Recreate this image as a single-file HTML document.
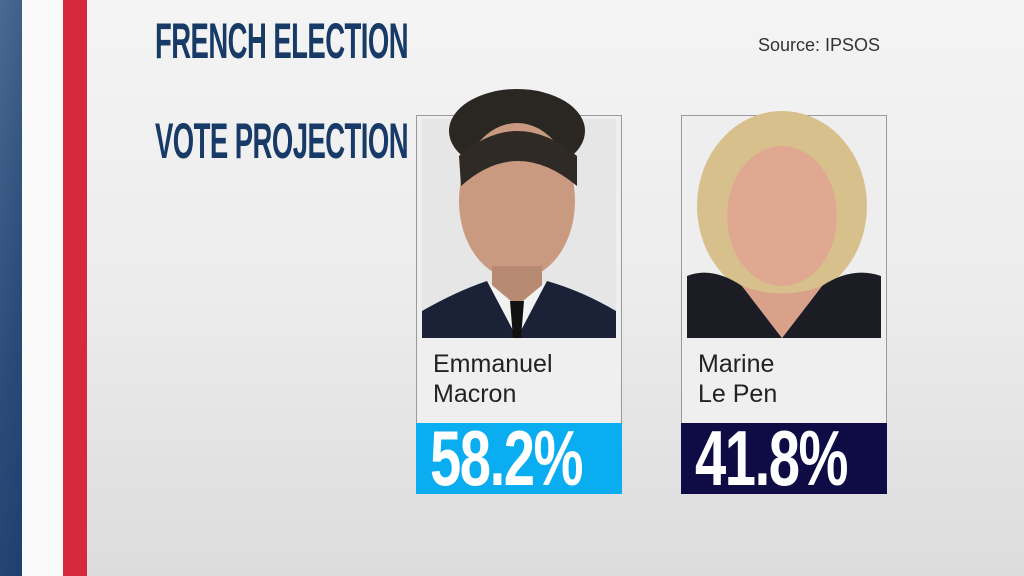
<!DOCTYPE html>
<html><head><meta charset="utf-8"><style>
body{margin:0;width:1024px;height:576px;overflow:hidden;position:relative;background:linear-gradient(180deg,#f4f4f4 0%,#ececec 50%,#dcdcdc 100%);font-family:"Liberation Sans",sans-serif}
.s{position:absolute;top:0;height:576px}
.t{position:absolute;left:155px;color:#173a67;font-weight:bold;font-size:50px;line-height:50px;transform:scaleX(0.55);transform-origin:left top;white-space:nowrap;letter-spacing:-1px}
.card{position:absolute;top:115px;width:204px;height:377px;border:1px solid #9a9a9a;background:#efefef}
.nm{position:absolute;left:16px;top:233px;font-size:25px;line-height:30px;color:#222}
.pc{position:absolute;left:-1px;top:307px;width:206px;height:71px;color:#fff;font-weight:bold;font-size:78px;line-height:71px;overflow:hidden}
.pc span{display:inline-block;margin-left:14px;transform:scaleX(0.72);transform-origin:left;letter-spacing:-2px}
</style></head><body>
<div class="s" style="left:0;width:22px;background:linear-gradient(100deg,#4a6a92 0%,#2a4a78 60%,#1f3f6e 100%)"></div>
<div class="s" style="left:22px;width:41px;background:#fafafa"></div>
<div class="s" style="left:63px;width:24px;background:#d52a3c"></div>
<div class="t" style="top:16px">FRENCH ELECTION</div>
<div class="t" style="top:116px">VOTE PROJECTION</div>
<div style="position:absolute;left:758px;top:35px;font-size:18px;color:#333">Source: IPSOS</div>

<div class="card" style="left:416px">
<svg width="204" height="225" style="position:absolute;left:0;top:0;overflow:visible">
<rect x="5" y="3" width="194" height="219" fill="#e6e6e6"/>
<ellipse cx="100" cy="15" rx="68" ry="42" fill="#2a2622"/>
<ellipse cx="100" cy="85" rx="58" ry="78" fill="#c99a80"/>
<path d="M42 40 Q100 -10 160 40 L160 70 Q100 20 44 70Z" fill="#2f2a25"/>
<rect x="75" y="150" width="50" height="50" fill="#b98a72"/>
<path d="M5 222 L5 195 Q40 175 70 165 L100 200 L130 165 Q165 175 199 195 L199 222Z" fill="#1b2238"/>
<path d="M70 165 L100 222 L130 165 L100 190Z" fill="#f2f2f2"/>
<path d="M93 185 L107 185 L104 222 L96 222Z" fill="#111"/>
</svg>
<div class="nm">Emmanuel<br>Macron</div>
<div class="pc" style="background:#0aaef0"><span>58.2%</span></div>
</div>

<div class="card" style="left:681px">
<svg width="204" height="225" style="position:absolute;left:0;top:0;overflow:visible">
<rect x="5" y="3" width="194" height="219" fill="#eeeeee"/>
<ellipse cx="100" cy="90" rx="85" ry="95" fill="#d8c08c"/>
<ellipse cx="100" cy="100" rx="55" ry="70" fill="#e0a890"/>
<path d="M5 222 L5 160 Q30 150 60 170 L100 222 L140 170 Q170 150 199 160 L199 222Z" fill="#1c1c24"/>
<path d="M60 170 L100 222 L140 170 Q100 185 60 170Z" fill="#d9a08a"/>
</svg>
<div class="nm">Marine<br>Le Pen</div>
<div class="pc" style="background:#0f0b45"><span>41.8%</span></div>
</div>
</body></html>
